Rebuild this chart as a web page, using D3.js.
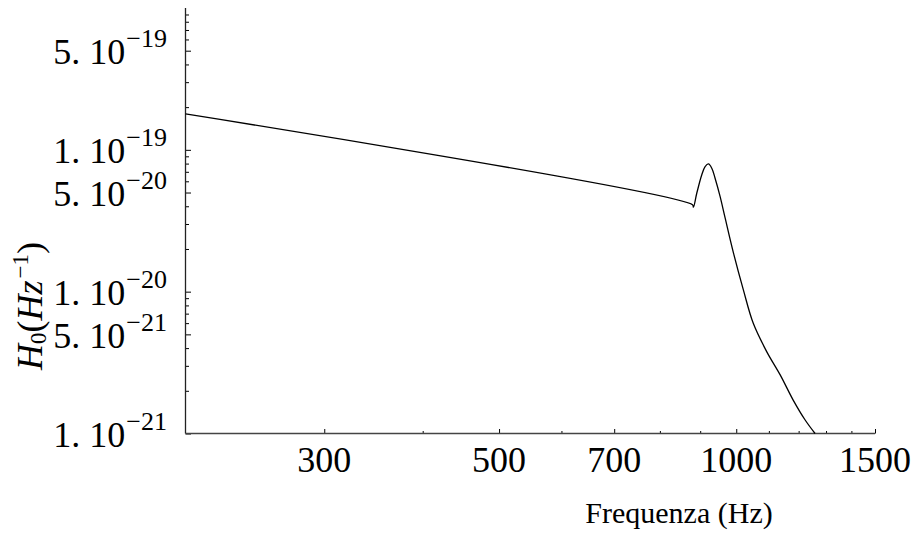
<!DOCTYPE html>
<html lang="en">
<head>
<meta charset="UTF-8">
<script src="https://cdn.jsdelivr.net/npm/d3@7"></script>
<title>H0 vs Frequenza</title>
<style>
    body { margin: 0; background: #fff; }
    text { font-family: "Liberation Serif", "Times New Roman", serif; fill: #000; }
    .tick line { stroke: #000; stroke-width: 1px; }
</style>
</head>
<body>
<div id="chart"></div>
<script>
/*------------------- data -------------------------------------------*/
const freq = [200, 880, 882.4, 891, 904, 913, 922, 931, 940, 954, 968,
              992, 1021, 1051, 1093, 1137, 1181, 1223, 1259];
const h0 = [1.79e-19, 4.1e-20, 3.94e-20, 4.94e-20, 6.65e-20, 7.61e-20, 7.95e-20,
            7.42e-20, 6.31e-20, 4.68e-20, 3.31e-20, 1.87e-20, 1.03e-20, 5.98e-21,
            3.78e-21, 2.59e-21, 1.72e-21, 1.245e-21, 1.0e-21];

const xMajorTicks = [300, 500, 700, 1000, 1500];
const xMinorTicks = [400, 600, 800, 900, 1100, 1200, 1300, 1400];
const yMajorTicks = [1e-21, 5e-21, 1e-20, 5e-20, 1e-19, 5e-19];
const yMinorMantissas = [2, 3, 4, 6, 7, 8, 9];
const yDecades = [-21, -20, -19];

/*------------------- layout --------------------*/
const width = 916, height = 539;

const x = d3.scaleLog().domain([200, 1500]).range([185.5, 875]);
const y = d3.scaleLog().domain([1e-21, 1e-18]).range([433.5, 8]);

const svg = d3.select("#chart").append("svg")
    .attr("width", width)
    .attr("height", height);

svg.append("rect").attr("width", width).attr("height", height).attr("fill", "#fff");

// ticks (pointing inside the plot)
const yMinorTicks = [];
yDecades.forEach(e => yMinorMantissas.forEach(m => yMinorTicks.push(m * Math.pow(10, e))));

function tickGroup(axis, transform) {
    const g = svg.append("g").attr("transform", transform).call(axis);
    g.select(".domain").remove();
    g.selectAll("text").remove();
    return g;
}

tickGroup(d3.axisBottom(x).tickValues(xMajorTicks).tickSize(-4.5), `translate(0,${y.range()[0]})`);
tickGroup(d3.axisBottom(x).tickValues(xMinorTicks).tickSize(-2.5), `translate(0,${y.range()[0]})`);
tickGroup(d3.axisLeft(y).tickValues(yMajorTicks).tickSize(-5.5), `translate(${x.range()[0]},0)`);
tickGroup(d3.axisLeft(y).tickValues(yMinorTicks).tickSize(-3.5), `translate(${x.range()[0]},0)`);

// axis lines
svg.append("line")
    .attr("x1", x.range()[0]).attr("x2", x.range()[1])
    .attr("y1", y.range()[0]).attr("y2", y.range()[0])
    .attr("stroke", "#444").attr("stroke-width", 1.6);
svg.append("line")
    .attr("x1", x.range()[0]).attr("x2", x.range()[0])
    .attr("y1", y.range()[0]).attr("y2", y.range()[1])
    .attr("stroke", "#222").attr("stroke-width", 1.3);

// x tick labels
svg.selectAll(".xlab")
    .data(xMajorTicks)
    .enter()
    .append("text")
    .attr("class", "xlab")
    .attr("x", d => x(d))
    .attr("y", y.range()[0] + 38.2)
    .attr("text-anchor", "middle")
    .style("font-size", "36px")
    .text(d => d);

// y tick labels like  5. 10^-19
const ylab = svg.selectAll(".ylab")
    .data(yMajorTicks)
    .enter()
    .append("text")
    .attr("class", "ylab")
    .attr("x", 167)
    .attr("y", d => y(d) + 13.3)
    .attr("text-anchor", "end")
    .style("font-size", "36px");

ylab.append("tspan")
    .text(d => {
        const e = Math.floor(Math.log10(d) + 1e-9);
        return Math.round(d / Math.pow(10, e)) + ". 10";
    });
ylab.append("tspan")
    .attr("dx", 1)
    .attr("dy", -17)
    .style("font-size", "26px")
    .text(d => "\u2212" + (-Math.floor(Math.log10(d) + 1e-9)));

// curve
const line = d3.line()
    .x((d, i) => x(freq[i]))
    .y(d => y(d))
    .curve(d3.curveCatmullRom.alpha(0.5));

svg.append("path")
    .datum(h0)
    .attr("fill", "none")
    .attr("stroke", "#000")
    .attr("stroke-width", 1.3)
    .attr("stroke-linejoin", "round")
    .attr("d", line);

// axis titles
svg.append("text")
    .attr("x", 679)
    .attr("y", 523)
    .attr("text-anchor", "middle")
    .style("font-size", "30px")
    .text("Frequenza (Hz)");

const ytitle = svg.append("text")
    .attr("transform", "translate(42,306) rotate(-90)")
    .attr("text-anchor", "middle")
    .style("font-size", "36px");
ytitle.append("tspan").style("font-style", "italic").text("H");
ytitle.append("tspan").attr("dy", 4).style("font-size", "23px").text("0");
ytitle.append("tspan").attr("dy", -4).text("(");
ytitle.append("tspan").style("font-style", "italic").text("Hz");
ytitle.append("tspan").attr("dy", -14).attr("dx", 2).style("font-size", "23px").text("\u22121");
ytitle.append("tspan").attr("dy", 14).text(")");
</script>
</body>
</html>
